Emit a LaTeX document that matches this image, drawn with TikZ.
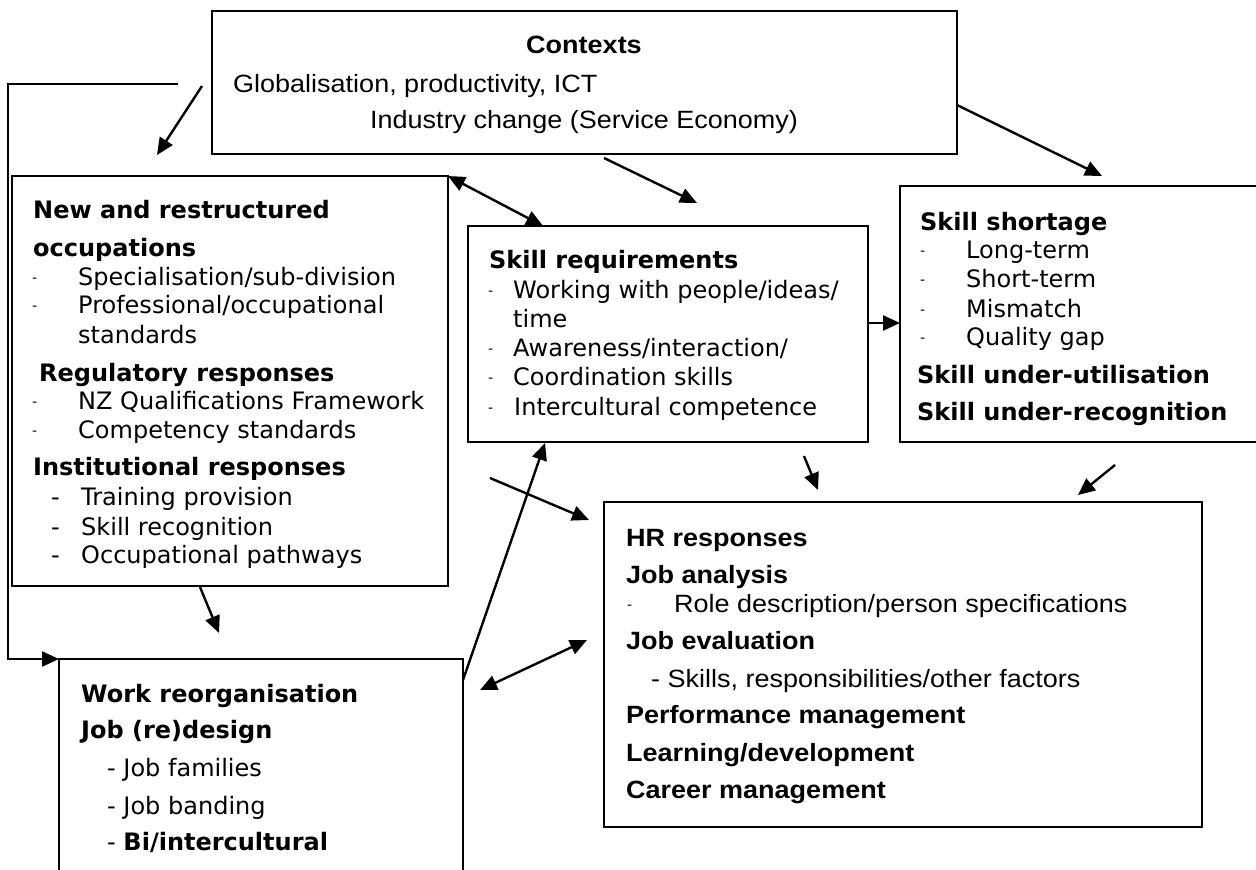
\documentclass[tikz,border=0pt]{standalone}
\usepackage{fontspec}
\setmainfont{DejaVu Sans}
\newfontfamily\hrfont[FakeStretch=1.08]{Liberation Sans}
\usetikzlibrary{arrows.meta}
\begin{document}
\begin{tikzpicture}[x=1pt,y=-1pt,
  box/.style={draw, line width=2pt, inner sep=0pt, outer sep=0pt, rectangle},
  txt/.style={anchor=base west, inner sep=0pt, font=\fontsize{24}{28}\selectfont},
  btxt/.style={anchor=base west, inner sep=0pt, font=\fontsize{24}{28}\selectfont\bfseries},
  dsh/.style={anchor=base west, inner sep=0pt, font=\fontsize{14}{14}\selectfont},
  htxt/.style={anchor=base west, inner sep=0pt, font=\hrfont\fontsize{25}{30}\selectfont},
  hbtxt/.style={anchor=base west, inner sep=0pt, font=\hrfont\fontsize{25}{30}\selectfont\bfseries},
  arr/.style={line width=2.4pt, -{Triangle[length=17pt,width=15pt]}},
  darr/.style={line width=2.4pt, {Triangle[length=17pt,width=15pt]}-{Triangle[length=17pt,width=15pt]}},
  fb/.style={line width=2.2pt, -{Triangle[length=17pt,width=15pt]}}]

\path[use as bounding box] (0,0) rectangle (1256,870);
\clip (0,0) rectangle (1256,870);

% ---------- boxes ----------
\node[box, minimum width=745pt, minimum height=143pt] (ctx) at (584.5,82.5) {};
\node[box, minimum width=436pt, minimum height=410pt] (new) at (230,381) {};
\node[box, minimum width=404pt, minimum height=261pt] (wr) at (261,789.5) {};
\node[box, minimum width=400pt, minimum height=216pt] (sr) at (668,334) {};
\node[box, minimum width=365pt, minimum height=256pt] (ss) at (1082.5,314) {};
\node[box, minimum width=598pt, minimum height=325pt] (hr) at (903,664.5) {};

% ---------- Contexts ----------
\node[hbtxt, anchor=base] (ctxT) at (584,53) {Contexts};
\node[htxt] (ctx1) at (233,92) {Globalisation, productivity, ICT};
\node[htxt] (ctx2) at (370,128) {Industry change (Service Economy)};

% ---------- New and restructured ----------
\node[btxt] (n1) at (33,218) {New and restructured};
\node[btxt] (n2) at (33,256) {occupations};
\node[dsh] (n3d) at (32,282) {-};
\node[txt] (n3) at (78,285) {Specialisation/sub-division};
\node[dsh] (n4d) at (32,310) {-};
\node[txt] (n4) at (78,313) {Professional/occupational};
\node[txt] (n5) at (78,343) {standards};
\node[btxt] (n6) at (39,381) {Regulatory responses};
\node[dsh] (n7d) at (32,406) {-};
\node[txt] (n7) at (78,409) {NZ Qualifications Framework};
\node[dsh] (n8d) at (32,435) {-};
\node[txt] (n8) at (78,438) {Competency standards};
\node[btxt] (n9) at (33,475) {Institutional responses};
\node[txt] (n10d) at (51,505) {-};
\node[txt] (n10) at (81,505) {Training provision};
\node[txt] (n11d) at (51,535) {-};
\node[txt] (n11) at (81,535) {Skill recognition};
\node[txt] (n12d) at (51,563) {-};
\node[txt] (n12) at (81,563) {Occupational pathways};

% ---------- Skill requirements ----------
\node[btxt] (r1) at (489,268) {Skill requirements};
\node[dsh] (r2d) at (488,295) {-};
\node[txt] (r2) at (513,298) {Working with people/ideas/};
\node[txt] (r3) at (513,327) {time};
\node[dsh] (r4d) at (488,353) {-};
\node[txt] (r4) at (513,356) {Awareness/interaction/};
\node[dsh] (r5d) at (488,382) {-};
\node[txt] (r5) at (513,385) {Coordination skills};
\node[dsh] (r6d) at (488,412) {-};
\node[txt] (r6) at (514,415) {Intercultural competence};

% ---------- Skill shortage ----------
\node[btxt] (s1) at (920,230) {Skill shortage};
\node[dsh] (s2d) at (920,255) {-};
\node[txt] (s2) at (966,258) {Long-term};
\node[dsh] (s3d) at (920,284) {-};
\node[txt] (s3) at (966,287) {Short-term};
\node[dsh] (s4d) at (920,314) {-};
\node[txt] (s4) at (966,317) {Mismatch};
\node[dsh] (s5d) at (920,342) {-};
\node[txt] (s5) at (966,345) {Quality gap};
\node[btxt] (s6) at (917,383) {Skill under-utilisation};
\node[btxt] (s7) at (917,420) {Skill under-recognition};

% ---------- Work reorganisation ----------
\node[btxt] (w1) at (81,702) {Work reorganisation};
\node[btxt] (w2) at (81,738) {Job (re)design};
\node[txt] (w3) at (107,776) {- Job families};
\node[txt] (w4) at (107,814) {- Job banding};
\node[txt] (w5) at (107,850) {- \textbf{Bi/intercultural}};

% ---------- HR responses ----------
\node[hbtxt] (h1) at (626,546) {HR responses};
\node[hbtxt] (h2) at (626,583) {Job analysis};
\node[dsh] (h3d) at (627,609) {-};
\node[htxt] (h3) at (674,612) {Role description/person specifications};
\node[hbtxt] (h4) at (626,649) {Job evaluation};
\node[htxt] (h5) at (651,687) {- Skills, responsibilities/other factors};
\node[hbtxt] (h6) at (626,723) {Performance management};
\node[hbtxt] (h7) at (626,761) {Learning/development};
\node[hbtxt] (h8) at (626,798) {Career management};

% ---------- connectors ----------
\coordinate (fbA) at (178,84);
\coordinate (fbB) at (8,84);
\coordinate (fbC) at (8,659);
\draw[fb] (fbA) -- (fbB) -- (fbC) -- (wr.north west);

\coordinate (c2nA) at (202,86);
\coordinate (c2nB) at (157,155);
\draw[arr] (c2nA) -- (c2nB);

\coordinate (n2sB) at (543,226);
\draw[darr] (new.north east) -- (n2sB);

\coordinate (c2rA) at (604,158);
\coordinate (c2rB) at (697,203);
\draw[arr] (c2rA) -- (c2rB);

\coordinate (c2sA) at (957,105);
\coordinate (c2sB) at (1102,176);
\draw[arr] (c2sA) -- (c2sB);

\coordinate (r2sA) at (868,323);
\draw[arr] (r2sA) -- (r2sA -| ss.west);

\coordinate (r2hA) at (804,456);
\coordinate (r2hB) at (818,490);
\draw[arr] (r2hA) -- (r2hB);

\coordinate (s2hA) at (1115,465);
\coordinate (s2hB) at (1078,495);
\draw[arr] (s2hA) -- (s2hB);

\coordinate (n2wA) at (200,587);
\coordinate (n2wB) at (219,633);
\draw[arr] (n2wA) -- (n2wB);

\coordinate (xA) at (490,478);
\coordinate (xB) at (589,520);
\draw[arr] (xA) -- (xB);

\coordinate (w2rA) at (463,680);
\coordinate (w2rB) at (545,443);
\draw[arr] (w2rA) -- (w2rB);

\coordinate (w2hA) at (480,690);
\coordinate (w2hB) at (587,640);
\draw[darr] (w2hA) -- (w2hB);

\end{tikzpicture}
\end{document}
